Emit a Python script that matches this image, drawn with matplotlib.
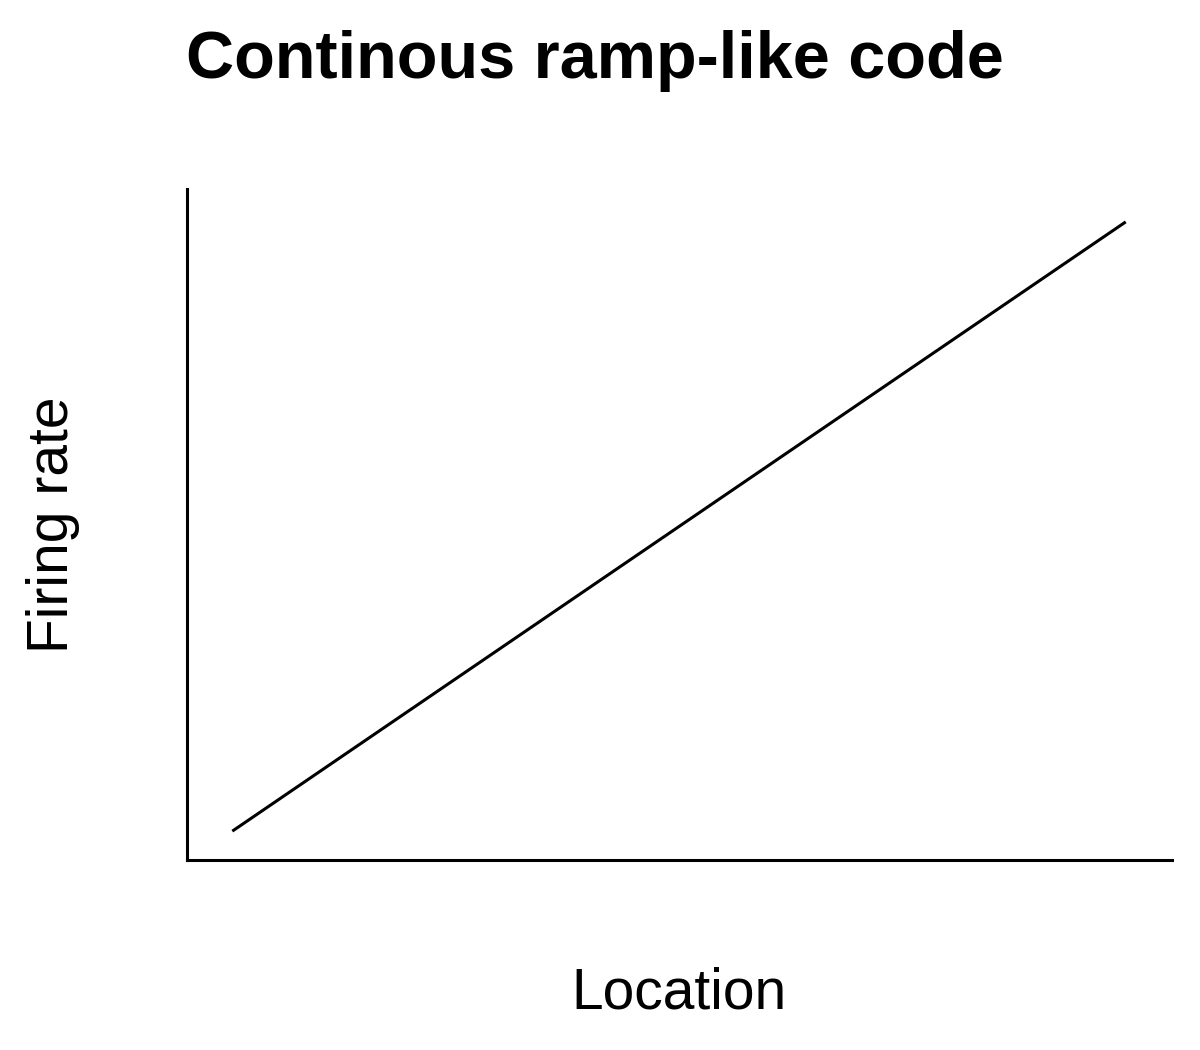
import matplotlib
matplotlib.use('Agg')
import matplotlib.pyplot as plt

plt.rcParams['font.family'] = ['Liberation Sans', 'DejaVu Sans']

# ramp: two end points of the sketch line (axes run 0..1)
location = [0.046, 0.953]
rate = [0.043, 0.951]

fig = plt.figure(figsize=(12, 10.5), dpi=100)
ax = fig.add_axes([187/1200, 1 - 860/1050, (1172 - 187)/1200, (860 - 189)/1050])

ax.plot(location, rate, color='black', lw=2.2, solid_capstyle='butt')
ax.set_xlim(0, 1)
ax.set_ylim(0, 1)

for s in ['top', 'right']:
    ax.spines[s].set_visible(False)
for s in ['left', 'bottom']:
    ax.spines[s].set_linewidth(2.2)
ax.set_xticks([])
ax.set_yticks([])

ax.set_xlabel('Location', fontsize=41, labelpad=77)
ax.set_ylabel('Firing rate', fontsize=41, labelpad=77)
fig.text(0.496, 1 - 78/1050, 'Continous ramp-like code', fontsize=48,
         fontweight='bold', ha='center', va='baseline')

fig.savefig('out.png', dpi=100)
